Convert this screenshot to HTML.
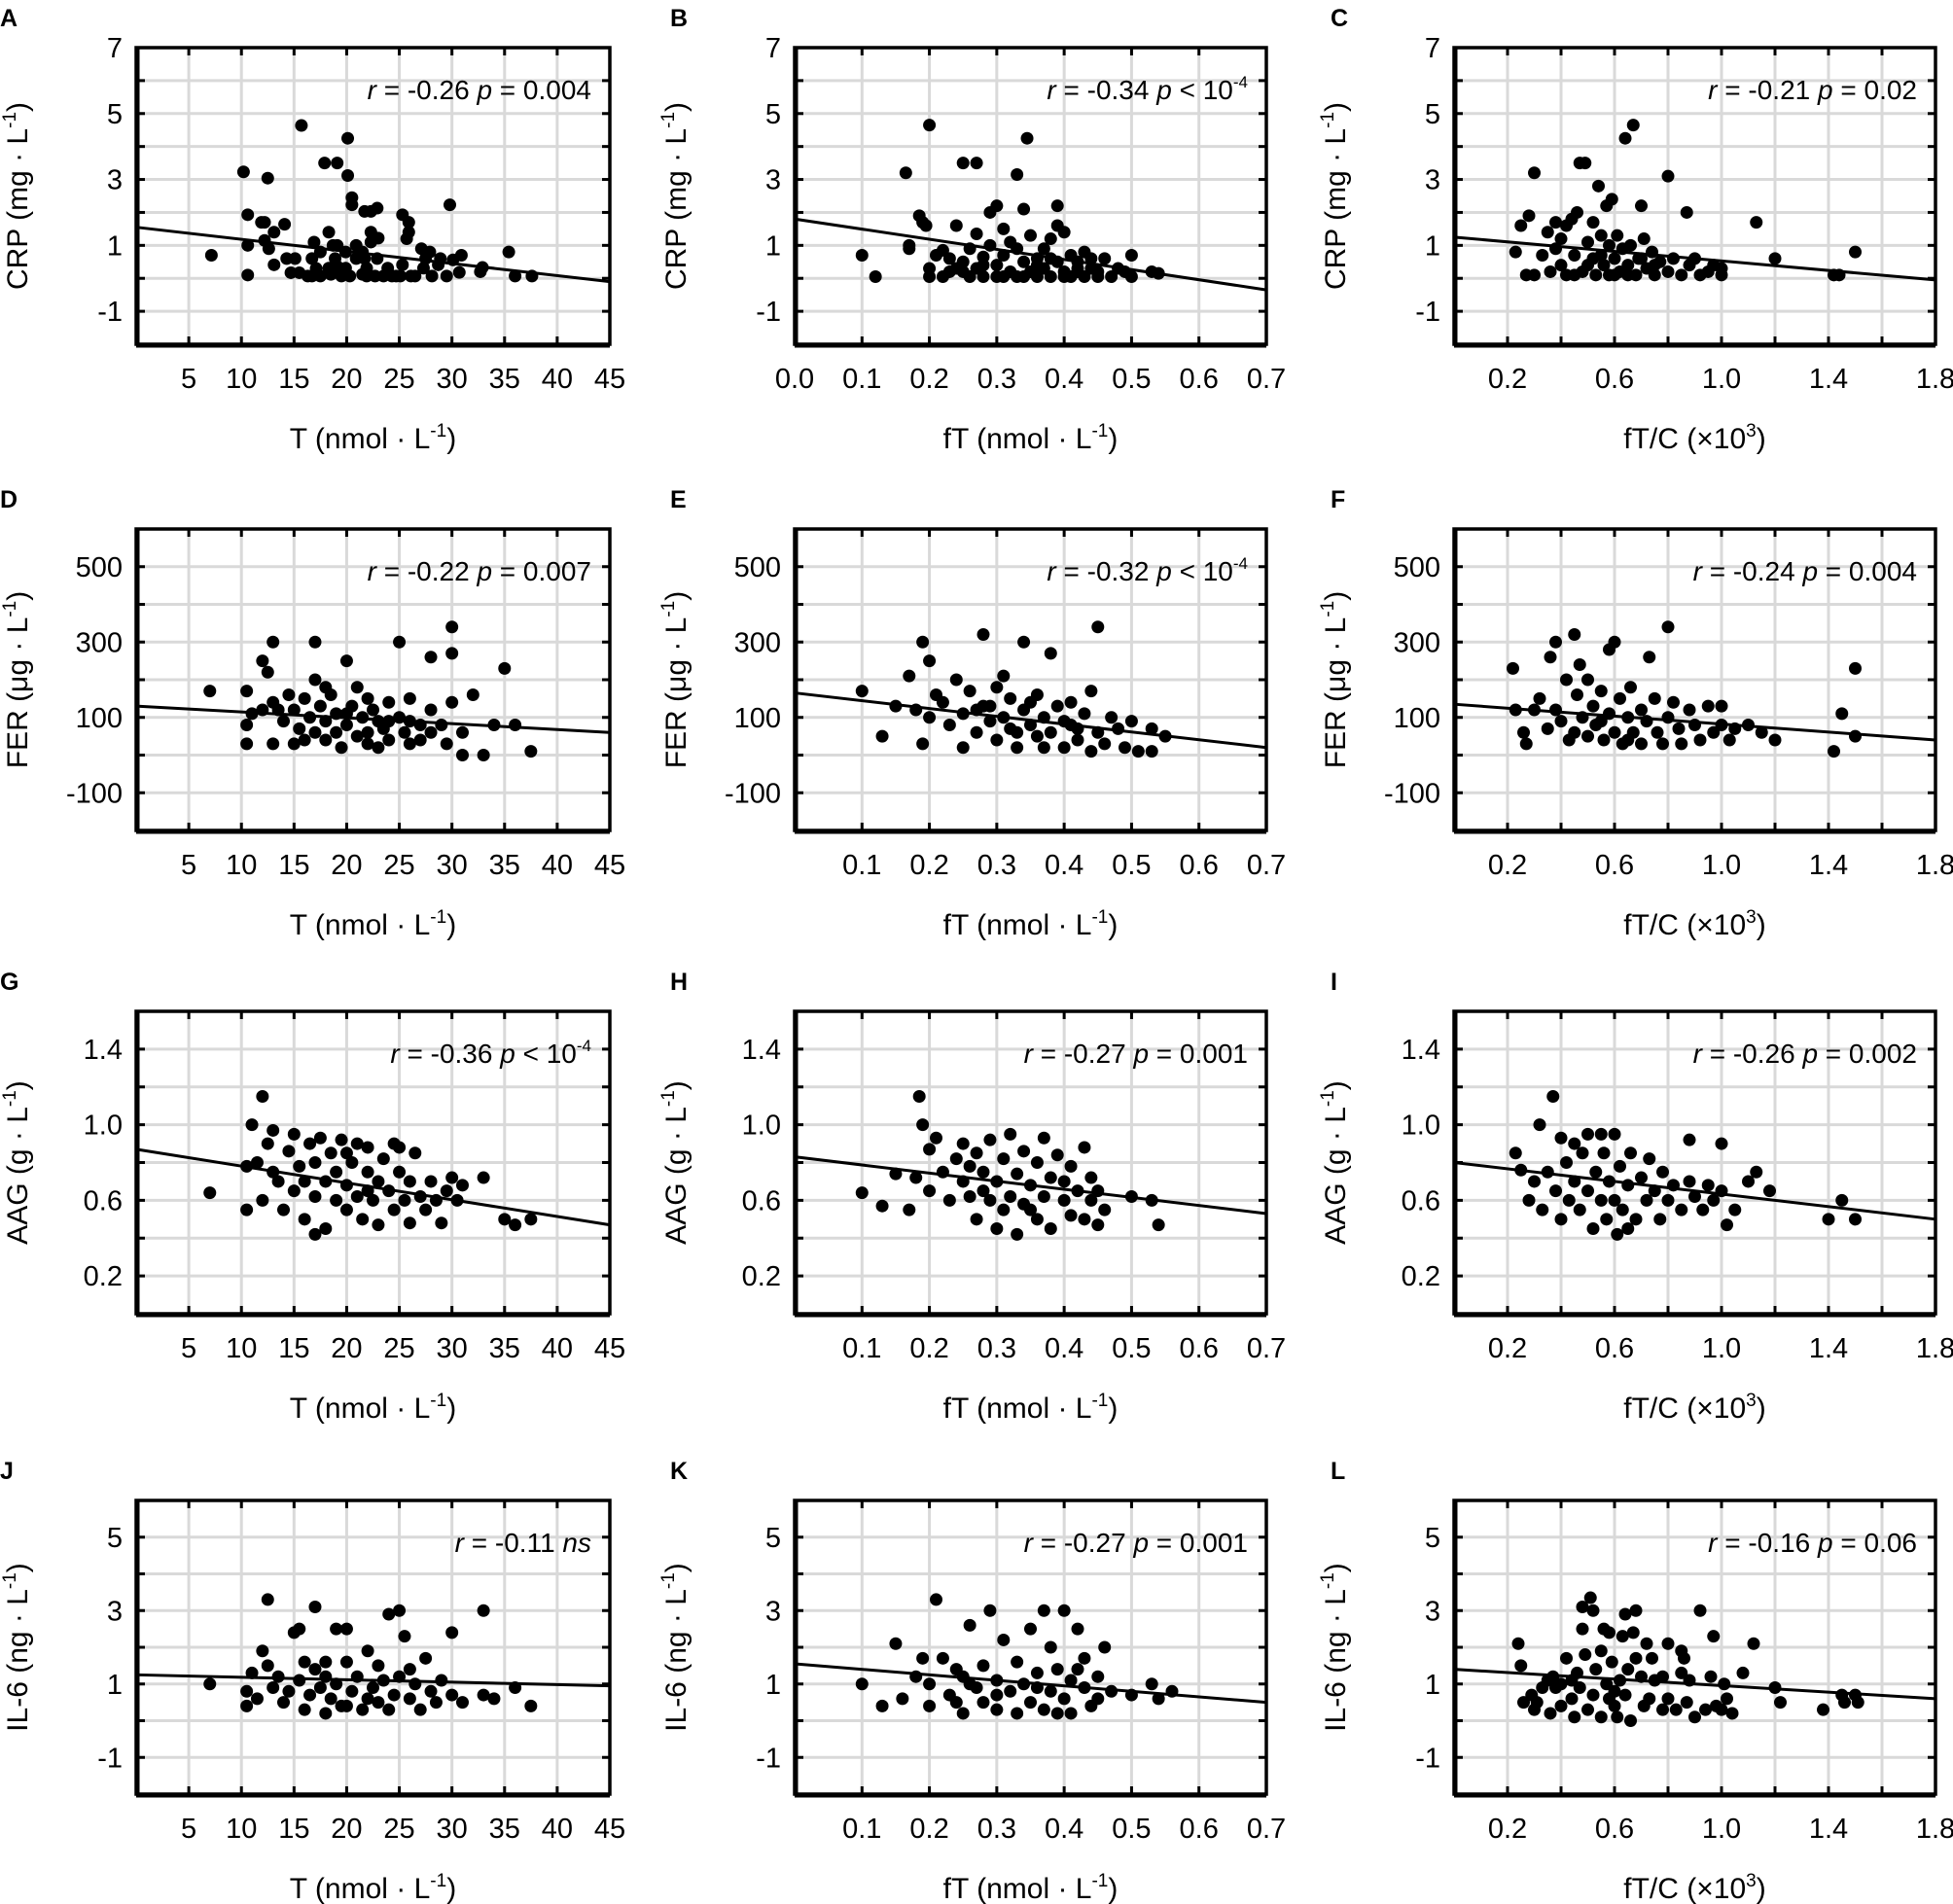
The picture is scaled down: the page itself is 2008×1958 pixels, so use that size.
<!DOCTYPE html>
<html><head><meta charset="utf-8">
<style>
html,body{margin:0;padding:0;background:#fff;}
svg{display:block;font-family:"Liberation Sans",Arial,sans-serif;}
</style></head>
<body>
<svg id="fig" width="2008" height="1958" viewBox="0 0 2008 1958" xmlns="http://www.w3.org/2000/svg"></svg>
<script>
// ---- data (per panel [x, y] pairs) ----
const ptsA=[[7.15,0.7],[10.2,3.23],[10.6,1.93],[10.6,1.0],[10.6,0.1],[12.5,3.04],[11.9,1.7],[12.2,1.7],[12.2,1.15],[12.6,0.9],[13.1,1.4],[14.1,1.64],[13.1,0.41],[14.3,0.6],[15.1,0.6],[14.7,0.17],[15.7,4.64],[15.5,0.17],[16.3,0.07],[16.9,1.1],[16.7,0.6],[17.1,0.3],[17.5,0.07],[17.9,3.5],[18.3,1.4],[18.7,1.0],[18.5,0.12],[19.1,3.5],[19.1,1.0],[18.9,0.6],[19.1,0.36],[20.1,4.25],[20.1,3.12],[20.5,2.45],[20.5,2.23],[19.9,0.31],[20.3,0.07],[20.9,1.0],[20.9,0.6],[21.5,0.12],[21.7,0.6],[21.9,0.31],[21.7,2.03],[22.3,2.03],[22.3,1.4],[22.3,1.1],[22.9,2.13],[23.0,1.22],[22.9,0.6],[22.7,0.07],[23.9,0.31],[24.3,0.07],[25.3,1.93],[25.3,0.41],[25.1,0.07],[25.9,1.7],[25.9,1.4],[25.7,1.2],[26.1,0.07],[27.1,0.9],[27.9,0.8],[27.5,0.6],[27.3,0.31],[28.1,0.07],[28.7,0.41],[29.5,0.07],[29.8,2.23],[30.1,0.56],[30.9,0.7],[30.7,0.18],[32.7,0.2],[32.9,0.33],[35.4,0.8],[36.0,0.07],[37.6,0.07],[26.5,0.07],[24.7,0.07],[23.5,0.07],[21.9,0.07],[19.5,0.07],[18.3,0.31],[16.7,0.07],[17.5,0.8],[19.9,0.8],[21.5,0.8],[28.9,0.6]];
const ptsB=[[0.1,0.7],[0.12,0.05],[0.165,3.2],[0.17,1.0],[0.17,0.9],[0.185,1.9],[0.19,1.7],[0.195,1.6],[0.2,4.65],[0.2,0.3],[0.2,0.05],[0.21,0.7],[0.22,0.85],[0.23,0.6],[0.23,0.2],[0.24,1.6],[0.25,3.5],[0.25,0.5],[0.26,0.05],[0.27,3.5],[0.27,1.35],[0.27,0.3],[0.28,0.65],[0.28,0.05],[0.29,1.0],[0.29,2.0],[0.3,2.2],[0.3,0.4],[0.3,0.05],[0.31,1.5],[0.31,0.7],[0.32,1.1],[0.32,0.2],[0.33,3.15],[0.33,0.9],[0.33,0.05],[0.34,2.1],[0.34,0.5],[0.345,4.25],[0.35,1.3],[0.35,0.2],[0.36,0.6],[0.36,0.05],[0.37,0.9],[0.37,0.3],[0.38,1.2],[0.38,0.05],[0.39,2.2],[0.39,1.6],[0.39,0.5],[0.40,1.4],[0.40,0.2],[0.41,0.7],[0.41,0.05],[0.42,0.5],[0.42,0.2],[0.43,0.8],[0.43,0.05],[0.44,0.6],[0.44,0.3],[0.45,0.2],[0.45,0.05],[0.46,0.6],[0.47,0.05],[0.48,0.3],[0.49,0.2],[0.5,0.7],[0.5,0.05],[0.53,0.2],[0.54,0.15],[0.22,0.05],[0.25,0.2],[0.28,0.4],[0.31,0.05],[0.34,0.05],[0.36,0.4],[0.38,0.6],[0.4,0.05],[0.42,0.3],[0.26,0.9],[0.24,0.3]];
const ptsC=[[0.23,0.8],[0.25,1.6],[0.27,0.1],[0.28,1.9],[0.3,3.2],[0.3,0.1],[0.33,0.7],[0.35,1.4],[0.36,0.2],[0.38,1.7],[0.38,0.9],[0.4,0.4],[0.4,1.2],[0.42,1.6],[0.42,0.1],[0.44,1.8],[0.45,0.7],[0.46,2.0],[0.47,3.5],[0.48,0.2],[0.49,3.5],[0.5,0.4],[0.5,1.1],[0.52,1.7],[0.53,0.1],[0.54,2.8],[0.55,0.7],[0.56,0.4],[0.57,2.2],[0.58,1.0],[0.58,0.1],[0.59,2.4],[0.6,0.6],[0.61,1.3],[0.62,0.2],[0.63,0.9],[0.64,4.25],[0.65,0.4],[0.66,1.0],[0.67,4.65],[0.68,0.1],[0.69,0.6],[0.7,2.2],[0.71,1.2],[0.72,0.3],[0.74,0.8],[0.75,0.1],[0.77,0.5],[0.8,3.1],[0.8,0.2],[0.82,0.6],[0.85,0.1],[0.87,2.0],[0.88,0.4],[0.9,0.6],[0.92,0.1],[0.95,0.2],[0.97,0.4],[1.0,0.1],[1.0,0.3],[1.13,1.7],[1.2,0.6],[1.42,0.1],[1.44,0.1],[1.5,0.8],[0.52,0.6],[0.6,0.1],[0.7,0.6],[0.55,1.3],[0.45,0.1],[0.65,0.1],[0.75,0.4]];
const ptsD=[[7,170],[10.5,170],[10.5,80],[10.5,30],[11,110],[12,120],[12,250],[12.5,220],[13,300],[13,140],[13,30],[13.5,120],[14,90],[14.5,160],[15,120],[15,30],[15.5,70],[16,150],[16.5,100],[17,300],[17,60],[17,200],[17.5,130],[18,90],[18,40],[18.5,160],[19,110],[19,60],[19.5,20],[20,250],[20,80],[20.5,130],[21,180],[21,50],[21.5,100],[22,150],[22,60],[22.5,120],[23,90],[23,20],[23.5,70],[24,140],[24,40],[25,300],[25,100],[25.5,60],[26,150],[26,30],[27,80],[27,40],[28,260],[28,120],[28,60],[29,80],[29.5,30],[30,340],[30,270],[30,140],[31,0],[31,60],[32,160],[33,0],[34,80],[35,230],[36,80],[37.5,10],[16,40],[20,110],[24,90],[18,180],[22,30],[26,90]];
const ptsE=[[0.1,170],[0.13,50],[0.15,130],[0.17,210],[0.18,120],[0.19,30],[0.19,300],[0.2,250],[0.2,100],[0.21,160],[0.22,140],[0.23,80],[0.24,200],[0.25,20],[0.25,110],[0.26,170],[0.27,60],[0.28,320],[0.28,130],[0.29,90],[0.3,180],[0.3,40],[0.31,100],[0.32,70],[0.32,150],[0.33,20],[0.34,120],[0.34,300],[0.35,80],[0.36,50],[0.36,160],[0.37,100],[0.38,270],[0.38,60],[0.39,130],[0.4,90],[0.4,20],[0.41,140],[0.42,70],[0.42,40],[0.43,110],[0.44,10],[0.44,170],[0.45,340],[0.45,60],[0.46,30],[0.47,100],[0.48,70],[0.49,20],[0.5,90],[0.51,10],[0.53,10],[0.53,70],[0.55,50],[0.29,130],[0.33,60],[0.37,20],[0.31,210],[0.35,140],[0.27,120],[0.41,80]];
const ptsF=[[0.22,230],[0.23,120],[0.26,60],[0.27,30],[0.3,120],[0.32,150],[0.35,70],[0.36,260],[0.38,300],[0.38,120],[0.4,90],[0.42,200],[0.43,40],[0.45,320],[0.46,160],[0.47,240],[0.48,100],[0.5,50],[0.5,200],[0.52,130],[0.53,80],[0.55,170],[0.56,40],[0.58,280],[0.58,110],[0.6,300],[0.6,60],[0.62,150],[0.63,30],[0.65,100],[0.66,180],[0.67,60],[0.7,120],[0.7,30],[0.72,90],[0.73,260],[0.75,150],[0.76,60],[0.78,30],[0.8,340],[0.8,100],[0.82,140],[0.84,70],[0.85,30],[0.88,120],[0.9,80],[0.92,40],[0.95,130],[0.97,60],[1.0,130],[1.0,80],[1.03,40],[1.05,70],[1.1,80],[1.15,60],[1.2,40],[1.42,10],[1.45,110],[1.5,230],[1.5,50],[0.55,90],[0.65,40],[0.45,60]];
const ptsG=[[7,0.64],[10.5,0.55],[10.5,0.78],[11,1.0],[11.5,0.8],[12,1.15],[12,0.6],[12.5,0.9],[13,0.75],[13,0.97],[13.5,0.7],[14,0.55],[14.5,0.86],[15,0.65],[15,0.95],[15.5,0.78],[16,0.5],[16,0.7],[16.5,0.9],[17,0.62],[17,0.8],[17.5,0.93],[18,0.45],[18,0.7],[18.5,0.85],[19,0.6],[19,0.75],[19.5,0.92],[20,0.55],[20,0.68],[20.5,0.8],[21,0.9],[21,0.62],[21.5,0.5],[22,0.75],[22,0.88],[22.5,0.6],[23,0.7],[23,0.47],[23.5,0.82],[24,0.65],[24.5,0.9],[24.5,0.55],[25,0.75],[25.5,0.6],[26,0.7],[26,0.48],[26.5,0.85],[27,0.62],[27.5,0.55],[28,0.7],[28.5,0.6],[29,0.48],[29.5,0.65],[30,0.72],[30.5,0.6],[31,0.68],[33,0.72],[35,0.5],[36,0.47],[37.5,0.5],[17,0.42],[20,0.85],[25,0.88],[22,0.65]];
const ptsH=[[0.1,0.64],[0.13,0.57],[0.15,0.74],[0.17,0.55],[0.18,0.72],[0.185,1.15],[0.19,1.0],[0.2,0.65],[0.2,0.87],[0.21,0.93],[0.22,0.75],[0.23,0.6],[0.24,0.82],[0.25,0.7],[0.25,0.9],[0.26,0.62],[0.27,0.85],[0.27,0.5],[0.28,0.75],[0.29,0.92],[0.29,0.6],[0.3,0.45],[0.3,0.7],[0.31,0.82],[0.32,0.62],[0.32,0.95],[0.33,0.74],[0.33,0.42],[0.34,0.86],[0.34,0.58],[0.35,0.68],[0.36,0.8],[0.36,0.5],[0.37,0.93],[0.37,0.62],[0.38,0.72],[0.38,0.45],[0.39,0.84],[0.4,0.6],[0.4,0.7],[0.41,0.52],[0.41,0.78],[0.42,0.65],[0.43,0.88],[0.43,0.5],[0.44,0.6],[0.44,0.72],[0.45,0.47],[0.45,0.65],[0.46,0.55],[0.5,0.62],[0.53,0.6],[0.54,0.47],[0.28,0.65],[0.35,0.55],[0.31,0.55],[0.26,0.78]];
const ptsI=[[0.23,0.85],[0.25,0.76],[0.28,0.6],[0.3,0.7],[0.32,1.0],[0.33,0.55],[0.35,0.75],[0.37,1.15],[0.38,0.65],[0.4,0.93],[0.4,0.5],[0.42,0.8],[0.43,0.6],[0.45,0.9],[0.45,0.7],[0.47,0.55],[0.48,0.85],[0.5,0.65],[0.5,0.95],[0.52,0.45],[0.53,0.75],[0.55,0.6],[0.56,0.85],[0.57,0.5],[0.58,0.7],[0.6,0.95],[0.6,0.6],[0.61,0.42],[0.62,0.78],[0.63,0.55],[0.65,0.68],[0.66,0.85],[0.68,0.5],[0.7,0.72],[0.72,0.6],[0.73,0.82],[0.75,0.65],[0.77,0.5],[0.78,0.75],[0.8,0.6],[0.82,0.68],[0.85,0.55],[0.88,0.92],[0.88,0.7],[0.9,0.62],[0.93,0.55],[0.95,0.68],[0.97,0.6],[1.0,0.9],[1.0,0.65],[1.02,0.47],[1.05,0.55],[1.1,0.7],[1.13,0.75],[1.18,0.65],[1.4,0.5],[1.45,0.6],[1.5,0.5],[0.55,0.95],[0.65,0.45]];
const ptsJ=[[7,1.0],[10.5,0.4],[10.5,0.8],[11,1.3],[11.5,0.6],[12,1.9],[12.5,1.5],[12.5,3.3],[13,0.9],[13.5,1.2],[14,0.5],[14.5,0.8],[15,2.4],[15.5,2.5],[15.5,1.1],[16,0.3],[16.5,0.7],[17,3.1],[17,1.4],[17.5,0.9],[18,0.2],[18,1.2],[18.5,0.6],[19,2.5],[19,1.0],[19.5,0.4],[20,2.5],[20,1.6],[20.5,0.8],[21,1.2],[21.5,0.3],[22,1.9],[22.5,0.9],[23,1.5],[23,0.5],[23.5,1.1],[24,2.9],[24,0.3],[24.5,0.7],[25,3.0],[25,1.2],[25.5,2.3],[26,0.6],[26.5,1.0],[27,0.3],[27.5,1.7],[28,0.8],[28.5,0.5],[29,1.1],[30,2.4],[30,0.7],[31,0.5],[33,3.0],[33,0.7],[34,0.6],[36,0.9],[37.5,0.4],[18,1.6],[22,0.6],[26,1.4],[20,0.4],[16,1.6]];
const ptsK=[[0.1,1.0],[0.13,0.4],[0.15,2.1],[0.16,0.6],[0.18,1.2],[0.19,1.7],[0.2,0.4],[0.2,1.0],[0.21,3.3],[0.22,1.7],[0.23,0.7],[0.24,1.4],[0.25,0.2],[0.25,1.2],[0.26,2.6],[0.27,0.9],[0.28,1.5],[0.28,0.5],[0.29,3.0],[0.3,1.1],[0.3,0.3],[0.31,2.2],[0.32,0.8],[0.33,1.6],[0.33,0.2],[0.34,1.0],[0.35,2.5],[0.35,0.5],[0.36,1.3],[0.37,3.0],[0.37,0.3],[0.38,2.0],[0.38,0.8],[0.39,1.4],[0.4,3.0],[0.4,0.6],[0.41,1.1],[0.41,0.2],[0.42,2.5],[0.43,0.9],[0.43,1.7],[0.44,0.4],[0.45,1.2],[0.45,0.6],[0.46,2.0],[0.47,0.8],[0.5,0.7],[0.53,1.0],[0.54,0.6],[0.56,0.8],[0.3,0.7],[0.26,1.0],[0.36,0.9],[0.39,0.2],[0.42,1.4],[0.24,0.5]];
const ptsL=[[0.24,2.1],[0.25,1.5],[0.26,0.5],[0.29,0.7],[0.3,0.3],[0.31,0.5],[0.33,0.9],[0.35,1.1],[0.37,1.2],[0.38,0.9],[0.4,0.4],[0.4,1.0],[0.42,1.7],[0.44,1.1],[0.44,0.6],[0.45,0.1],[0.46,1.3],[0.47,0.9],[0.48,3.1],[0.48,2.5],[0.49,1.8],[0.5,0.3],[0.51,3.35],[0.52,3.0],[0.52,0.7],[0.53,1.4],[0.55,1.9],[0.56,2.5],[0.57,1.0],[0.58,2.4],[0.58,0.6],[0.59,1.6],[0.6,0.4],[0.61,0.1],[0.62,1.1],[0.63,2.3],[0.64,2.9],[0.64,0.7],[0.65,1.4],[0.66,0.0],[0.67,2.4],[0.68,3.0],[0.68,1.7],[0.7,1.2],[0.71,0.4],[0.72,2.1],[0.73,0.6],[0.74,1.7],[0.75,1.1],[0.78,1.2],[0.78,0.3],[0.8,0.6],[0.8,2.1],[0.83,0.3],[0.85,1.9],[0.86,1.7],[0.85,1.3],[0.87,0.5],[0.88,1.1],[0.9,0.1],[0.92,3.0],[0.94,0.3],[0.96,1.2],[0.97,2.3],[0.98,0.4],[1.0,0.3],[1.01,1.0],[1.02,0.6],[1.04,0.2],[1.08,1.3],[1.12,2.1],[1.2,0.9],[1.22,0.5],[1.38,0.3],[1.45,0.7],[1.46,0.5],[1.5,0.7],[1.51,0.5],[0.36,0.2],[0.6,0.8],[0.55,0.1]];
// regression line: y at x-domain min and max
const fitLines={A:[1.55,-0.1],B:[1.8,-0.35],C:[1.25,-0.05],D:[130,60],E:[165,20],F:[135,40],G:[0.87,0.47],H:[0.83,0.53],I:[0.80,0.50],J:[1.25,0.95],K:[1.55,0.5],L:[1.4,0.6]};
const statR=["-0.26","-0.34","-0.21","-0.22","-0.32","-0.24","-0.36","-0.27","-0.26","-0.11","-0.27","-0.16"];
const statP=["= 0.004","< 10","= 0.02","= 0.007","< 10","= 0.004","< 10","= 0.001","= 0.002","ns","= 0.001","= 0.06"];
const xTicksA=[5,10,15,20,25,30,35,40,45];
const xTicksB0=["0.0","0.1","0.2","0.3","0.4","0.5","0.6","0.7"];
const xTicksB=["0.1","0.2","0.3","0.4","0.5","0.6","0.7"];
const xTicksC=["0.2","0.6","1.0","1.4","1.8"];
const yTicksCRP=["7","5","3","1","-1"];
const yTicksFER=["500","300","100","-100"];
const yTicksAAG=["1.4","1.0","0.6","0.2"];
const yTicksIL6=["5","3","1","-1"];

const NS="http://www.w3.org/2000/svg";
const svg=document.getElementById('fig');
function mk(tag,attrs,parent){const e=document.createElementNS(NS,tag);for(const k in attrs)e.setAttribute(k,attrs[k]);(parent||svg).appendChild(e);return e;}

const colLeft=[140,817,1495], colW=[487,485,495];
const rowTop=[49,544,1040,1543], rowH=[305,310,311,302];
const xDom=[[0,45],[0,0.7],[0,1.8]], xStep=[5,0.1,0.2];
const yDom=[[-2,7],[-200,600],[0,1.6],[-2,6]], yStep=[1,100,0.2,1];
const yTicks=[yTicksCRP,yTicksFER,yTicksAAG,yTicksIL6];
const yTitles=[["CRP (mg  · L","-1",")"],["FER (μg  · L","-1",")"],["AAG (g  · L","-1",")"],["IL-6 (ng  · L","-1",")"]];
const xTitles=[["T (nmol  · L","-1",")"],["fT (nmol  · L","-1",")"],["fT/C  (×10","3",")"]];
const letters="ABCDEFGHIJKL";
const allPts=[ptsA,ptsB,ptsC,ptsD,ptsE,ptsF,ptsG,ptsH,ptsI,ptsJ,ptsK,ptsL];

for(let r=0;r<4;r++)for(let c=0;c<3;c++){
  const i=r*3+c, L=letters[i];
  const x0=colLeft[c], w=colW[c], y0=rowTop[r], h=rowH[r];
  const [xa,xb]=xDom[c], [ya,yb]=yDom[r];
  const sx=v=>x0+(v-xa)/(xb-xa)*w;
  const sy=v=>y0+h-(v-ya)/(yb-ya)*h;
  const g=mk('g',{});
  
  
  const lt=mk('text',{x:[0,689,1368][c],y:y0-22,'font-size':25,'font-weight':'bold'},g);lt.textContent=L;
  
  
  const nx=Math.round((xb-xa)/xStep[c]), ny=Math.round((yb-ya)/yStep[r]);
  for(let k=1;k<nx;k++){const X=sx(xa+k*xStep[c]);
    const gl=mk('line',{x1:X,x2:X,y1:y0,y2:y0+h,stroke:'#d9d9d9','stroke-width':3},g);
    
    
    mk('line',{x1:X,x2:X,y1:y0,y2:y0+8,stroke:'#000','stroke-width':3},g);
    mk('line',{x1:X,x2:X,y1:y0+h-8,y2:y0+h,stroke:'#000','stroke-width':3},g);}
  for(let k=1;k<ny;k++){const Y=sy(ya+k*yStep[r]);
    const gl=mk('line',{x1:x0,x2:x0+w,y1:Y,y2:Y,stroke:'#d9d9d9','stroke-width':3},g);
    
    
    mk('line',{x1:x0,x2:x0+9,y1:Y,y2:Y,stroke:'#000','stroke-width':3},g);
    mk('line',{x1:x0+w-8,x2:x0+w,y1:Y,y2:Y,stroke:'#000','stroke-width':3},g);}
  const fr=mk('rect',{x:x0,y:y0,width:w,height:h,fill:'none',stroke:'#000','stroke-width':3.5},g);
  
  
  mk('line',{x1:x0+1,x2:x0+1,y1:y0,y2:y0+h,stroke:'#000','stroke-width':5},g);
  mk('line',{x1:x0,x2:x0+w,y1:y0+h+1,y2:y0+h+1,stroke:'#000','stroke-width':5},g);
  yTicks[r].forEach(t=>{const tx=mk('text',{x:x0-14,y:sy(parseFloat(t))+10,'font-size':29,'text-anchor':'end'},g);tx.textContent=t;
    
    });
  let xt = c===0?xTicksA.map(String):(c===1?(r===0?xTicksB0:xTicksB):xTicksC);
  xt.forEach(t=>{const tx=mk('text',{x:sx(parseFloat(t)),y:y0+h+45,'font-size':29,'text-anchor':'middle'},g);tx.textContent=t;
    
    });
  const xtit=mk('text',{x:x0+w/2,y:y0+h+107,'font-size':30,'text-anchor':'middle','xml:space':'preserve'},g);
  
  
  const xtt=xTitles[c];
  mk('tspan',{},xtit).textContent=xtt[0];
  mk('tspan',{dy:-12,'font-size':19},xtit).textContent=xtt[1];
  mk('tspan',{dy:12},xtit).textContent=xtt[2];
  const cyT=y0+h/2, cxT=x0-112;
  const ytit=mk('text',{x:cxT,y:cyT,'font-size':30,'text-anchor':'middle','xml:space':'preserve',transform:`rotate(-90 ${cxT} ${cyT})`},g);
  
  
  const ytt=yTitles[r];
  mk('tspan',{},ytit).textContent=ytt[0];
  mk('tspan',{dy:-12,'font-size':19},ytit).textContent=ytt[1];
  mk('tspan',{dy:12},ytit).textContent=ytt[2];
  allPts[i].forEach(p=>{const d=mk('circle',{cx:sx(p[0]),cy:sy(p[1]),r:6.5,fill:'#000'},g);
    
    });
  const fl=fitLines[L];
  const ln=mk('line',{x1:sx(xa),y1:sy(fl[0]),x2:sx(xb),y2:sy(fl[1]),stroke:'#000','stroke-width':3},g);
  
  
  const an=mk('text',{x:x0+w-19,y:y0+53,'font-size':28,'text-anchor':'end'},g);
  
  
  mk('tspan',{'font-style':'italic'},an).textContent='r';
  mk('tspan',{},an).textContent=' = '+statR[i]+' ';
  const sp=statP[i];
  if(sp==='ns'){mk('tspan',{'font-style':'italic'},an).textContent='ns';}
  else{mk('tspan',{'font-style':'italic'},an).textContent='p';
    mk('tspan',{},an).textContent=' '+sp;
    if(sp.startsWith('<')){mk('tspan',{dy:-12,'font-size':17},an).textContent='-4';}}
}
</script>
</body></html>
